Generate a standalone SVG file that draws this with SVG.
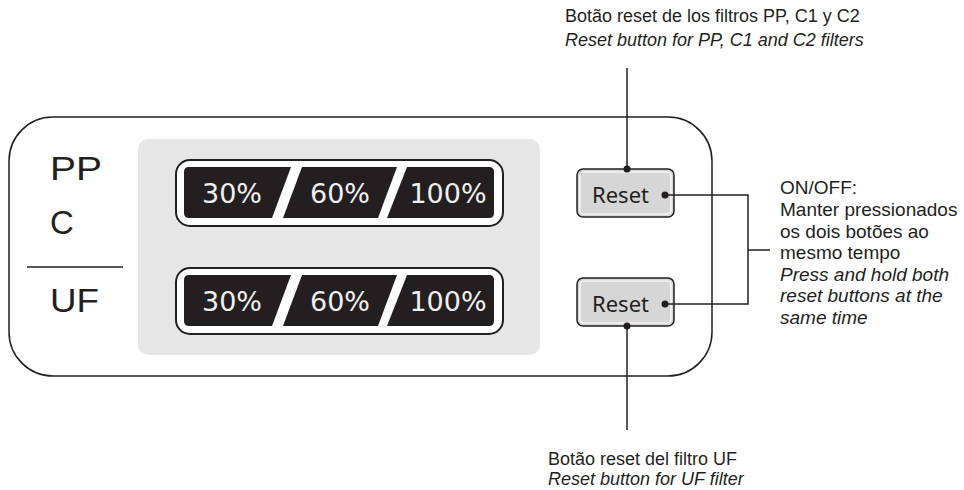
<svg xmlns="http://www.w3.org/2000/svg" width="964" height="490" viewBox="0 0 964 490">
<style>
.lbl{font-family:"Liberation Sans",Arial,sans-serif;fill:#231f20}
.big{font-size:33px}
.note{font-size:18px}
.side{font-size:19px}
.it{font-style:italic}
.pct{font-family:"DejaVu Sans",sans-serif;font-size:27px;fill:#f0f0f0;text-anchor:middle}
.seg{fill:#231f20}
.pill{fill:#fff;stroke:#231f20;stroke-width:2}
.btn{fill:#d6d6d6;stroke:#231f20;stroke-width:1.5}
.btnhl{fill:none;stroke:#fff;stroke-width:1.2}
.btxt{font-family:"Noto Sans","Open Sans",sans-serif;font-size:22px;fill:#231f20}
.ln{fill:none;stroke:#231f20;stroke-width:1.5}
.dot{fill:#231f20}
</style>
<g id="panel">
<rect x="9" y="117" width="703" height="259" rx="44" fill="#fff" stroke="#231f20" stroke-width="1.5"/>
<rect x="138" y="139" width="402" height="216" rx="10" fill="#e6e6e6"/>
</g>
<g id="labels">
<text class="lbl big" x="50" y="180" textLength="52" lengthAdjust="spacingAndGlyphs">PP</text>
<text class="lbl big" x="50" y="234">C</text>
<line x1="27" y1="267" x2="123" y2="267" stroke="#231f20" stroke-width="1.5"/>
<text class="lbl big" x="50" y="312" textLength="49" lengthAdjust="spacingAndGlyphs">UF</text>
</g>
<g id="bar-ppc">
<rect class="pill" x="176" y="160" width="327" height="66" rx="14"/>
<path class="seg" d="M189,167 H291 L272,218 H189 Q184,218 184,213 V172 Q184,167 189,167 Z"/>
<path class="seg" d="M302,167 H397 L378,218 H283 Z"/>
<path class="seg" d="M407,167 H489 Q494,167 494,172 V213 Q494,218 489,218 H387 Z"/>
<text class="pct" x="232" y="203">30%</text>
<text class="pct" x="340" y="203">60%</text>
<text class="pct" x="448" y="203">100%</text>
</g>
<g id="bar-uf">
<rect class="pill" x="176" y="268" width="327" height="66" rx="14"/>
<path class="seg" d="M189,275 H291 L272,326 H189 Q184,326 184,321 V280 Q184,275 189,275 Z"/>
<path class="seg" d="M302,275 H397 L378,326 H283 Z"/>
<path class="seg" d="M407,275 H489 Q494,275 494,280 V321 Q494,326 489,326 H387 Z"/>
<text class="pct" x="232" y="311">30%</text>
<text class="pct" x="340" y="311">60%</text>
<text class="pct" x="448" y="311">100%</text>
</g>
<g id="reset-top">
<rect class="btn" x="577" y="169" width="97" height="48" rx="6"/>
<rect class="btnhl" x="580" y="172" width="91" height="42" rx="4"/>
<text class="btxt" x="592" y="203">Reset</text>
</g>
<g id="reset-bottom">
<rect class="btn" x="577" y="278" width="97" height="48" rx="6"/>
<rect class="btnhl" x="580" y="281" width="91" height="42" rx="4"/>
<text class="btxt" x="592" y="312">Reset</text>
</g>
<g id="connectors">
<line class="ln" x1="627" y1="68" x2="627" y2="169"/>
<circle class="dot" cx="627" cy="169" r="3.5"/>
<line class="ln" x1="627" y1="326" x2="627" y2="430"/>
<circle class="dot" cx="627" cy="326" r="3.5"/>
<polyline class="ln" points="665,195 748,195 748,304 665,304"/>
<circle class="dot" cx="665" cy="195" r="3.5"/>
<circle class="dot" cx="665" cy="304" r="3.5"/>
<line class="ln" x1="748" y1="250" x2="770" y2="250"/>
</g>
<g id="note-top">
<text class="lbl note" x="565" y="22">Botão reset de los filtros PP, C1 y C2</text>
<text class="lbl note it" x="565" y="46">Reset button for PP, C1 and C2 filters</text>
</g>
<g id="note-right">
<text class="lbl side" x="780" y="194">ON/OFF:</text>
<text class="lbl side" x="780" y="216">Manter pressionados</text>
<text class="lbl side" x="780" y="238">os dois botões ao</text>
<text class="lbl side" x="780" y="259">mesmo tempo</text>
<text class="lbl side it" x="780" y="281">Press and hold both</text>
<text class="lbl side it" x="780" y="302">reset buttons at the</text>
<text class="lbl side it" x="780" y="324">same time</text>
</g>
<g id="note-bottom">
<text class="lbl note" x="548" y="465">Botão reset del filtro UF</text>
<text class="lbl note it" x="548" y="485">Reset button for UF filter</text>
</g>
</svg>
